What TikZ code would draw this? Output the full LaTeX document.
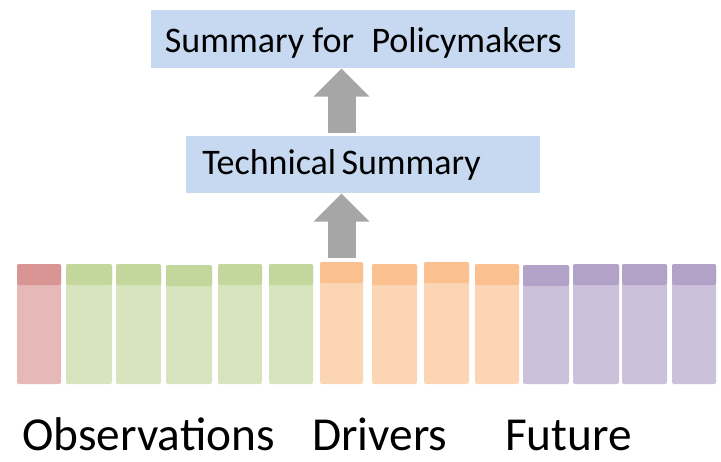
\documentclass[tikz,border=0pt]{standalone}
\usepackage{fontspec}
\setmainfont{Carlito}
\usetikzlibrary{arrows.meta}
\definecolor{boxblue}{HTML}{C6D9F1}
\definecolor{arrowgray}{HTML}{A6A6A6}
\definecolor{headred}{HTML}{D99594}
\definecolor{bodyred}{HTML}{E6B9B8}
\definecolor{headgreen}{HTML}{C3D69B}
\definecolor{bodygreen}{HTML}{D7E4BD}
\definecolor{headorange}{HTML}{FAC090}
\definecolor{bodyorange}{HTML}{FCD5B5}
\definecolor{headpurple}{HTML}{B3A2C7}
\definecolor{bodypurple}{HTML}{CCC1DA}
\newcommand{\barcol}[5]{%
  \node[fill=body#5, rounded corners=1.5pt, inner sep=0pt,
        minimum width={(#3-#2)*0.75pt}, minimum height={(384-#4)*0.75pt}]
        (b#1) at ({(#2+#3)/2},{(#4+384)/2}) {};
  \fill[head#5, rounded corners=1.5pt] (#2,#4) rectangle (#3,#4+21)}
\tikzset{
  box/.style={fill=boxblue, inner ysep=0pt, anchor=north west, font=\fontsize{27}{32}\selectfont},
  flow/.style={draw=arrowgray, line width=21pt, -{Triangle[width=40.5pt,length=21pt]}},
  groupname/.style={anchor=base west, inner sep=0pt, font=\fontsize{35.5}{42}\selectfont}
}

\begin{document}
\begin{tikzpicture}[x=0.75pt, y=-0.75pt]
    \useasboundingbox (0,0) rectangle (721,461);

    \node[box, minimum width=318pt, inner xsep=0pt, text height=31.5pt, text depth=12pt]
        (spm) at (151,10) {Summary for\hspace{7pt} Policymakers};
    \node[box, text width=241.5pt, inner xsep=12pt, align=left, text height=28.5pt, text depth=14.25pt]
        (ts) at (186,136) {Technical\hspace{4pt}Summary};

    \barcol{1}{17}{61}{264}{red};
    \barcol{2}{66}{112}{264}{green};
    \barcol{3}{116}{161}{264}{green};
    \barcol{4}{166}{212}{265}{green};
    \barcol{5}{218}{262}{264}{green};
    \barcol{6}{269}{313}{264}{green};
    \barcol{7}{320}{363}{262}{orange};
    \barcol{8}{372}{417}{264}{orange};
    \barcol{9}{424}{469}{262}{orange};
    \barcol{10}{475}{519}{264}{orange};
    \barcol{11}{523}{569}{265}{purple};
    \barcol{12}{573}{619}{264}{purple};
    \barcol{13}{622}{667}{264}{purple};
    \barcol{14}{672}{716}{264}{purple};

    \coordinate (up) at (b7.north |- ts.north);
    \draw[flow] ([yshift=3pt]b7.north) -- (b7.north |- ts.south);
    \draw[flow] ([yshift=2.25pt]up) -- (b7.north |- spm.south);

    \node[groupname] (obs) at (22,450) {Observations};
    \node[groupname] (drv) at (312,450) {Drivers};
    \node[groupname] (fut) at (505,450) {Future};
\end{tikzpicture}
\end{document}
